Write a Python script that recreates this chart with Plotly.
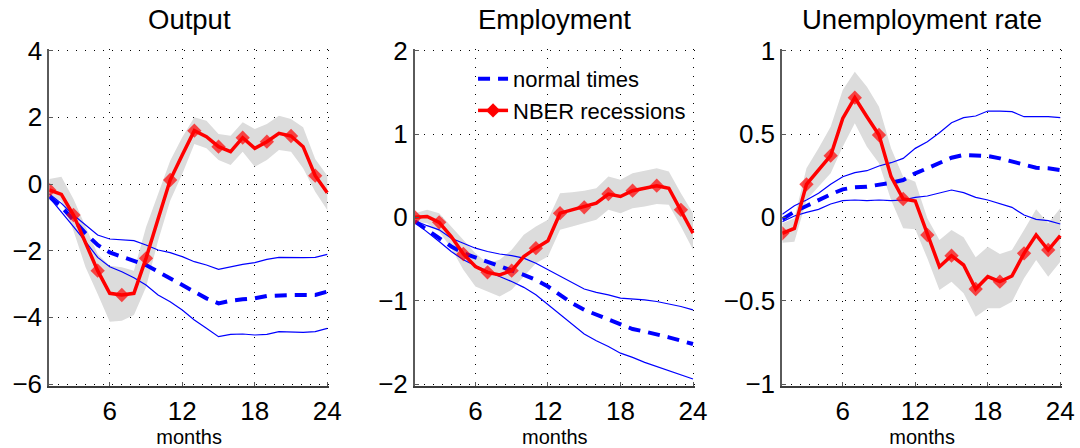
import plotly.graph_objects as go

months = list(range(1, 25))

# ---------------- Output ----------------
out_rec = [-0.18, -0.31, -0.93, -1.75, -2.60, -3.28, -3.33, -3.28, -2.23, -1.05, 0.12, 0.87,
           1.60, 1.42, 1.12, 0.97, 1.39, 1.07, 1.27, 1.52, 1.44, 1.12, 0.25, -0.26]
out_rec_hi = [0.15, 0.22, -0.45, -1.30, -2.10, -2.45, -2.50, -2.60, -1.30, -0.30, 0.70, 1.40,
              2.00, 1.90, 1.50, 1.45, 1.85, 1.65, 1.80, 2.05, 1.95, 1.70, 0.75, 0.25]
out_rec_lo = [-0.40, -0.50, -1.40, -2.50, -3.30, -4.13, -4.10, -3.93, -3.10, -1.70, -0.50, 0.30,
              1.20, 1.07, 0.72, 0.57, 0.97, 0.52, 0.72, 1.02, 0.97, 0.47, -0.23, -0.78]
out_norm = [-0.38, -0.68, -1.08, -1.48, -1.83, -2.05, -2.18, -2.30, -2.43, -2.63, -2.83, -3.06,
            -3.26, -3.43, -3.58, -3.50, -3.46, -3.43, -3.36, -3.33, -3.33, -3.33, -3.33, -3.23]
out_norm_hi = [-0.30, -0.58, -0.93, -1.23, -1.53, -1.65, -1.68, -1.70, -1.83, -1.98, -2.06, -2.18,
               -2.33, -2.43, -2.56, -2.48, -2.41, -2.36, -2.26, -2.20, -2.21, -2.21, -2.20, -2.11]
out_norm_lo = [-0.40, -0.83, -1.28, -1.73, -2.20, -2.48, -2.63, -2.81, -3.03, -3.33, -3.53, -3.78,
               -4.08, -4.33, -4.58, -4.51, -4.50, -4.53, -4.51, -4.43, -4.45, -4.45, -4.43, -4.33]

# ---------------- Employment ----------------
emp_rec = [0.00, 0.01, -0.06, -0.23, -0.44, -0.59, -0.66, -0.69, -0.64, -0.47, -0.37, -0.28,
           0.05, 0.09, 0.12, 0.17, 0.28, 0.25, 0.32, 0.35, 0.38, 0.35, 0.09, -0.19]
emp_rec_hi = [0.05, 0.09, 0.05, -0.11, -0.27, -0.43, -0.55, -0.51, -0.39, -0.21, -0.11, -0.03,
              0.29, 0.30, 0.32, 0.35, 0.49, 0.45, 0.53, 0.56, 0.59, 0.55, 0.29, 0.05]
emp_rec_lo = [-0.05, -0.07, -0.17, -0.37, -0.63, -0.83, -0.89, -0.95, -0.87, -0.71, -0.55, -0.47,
              -0.15, -0.11, -0.07, -0.03, 0.09, 0.05, 0.11, 0.13, 0.16, 0.15, -0.11, -0.39]
emp_norm = [-0.05, -0.15, -0.25, -0.35, -0.43, -0.48, -0.53, -0.59, -0.64, -0.69, -0.75, -0.83,
            -0.93, -1.03, -1.11, -1.17, -1.23, -1.29, -1.34, -1.37, -1.40, -1.44, -1.48, -1.52]
emp_norm_hi = [-0.04, -0.10, -0.15, -0.25, -0.31, -0.37, -0.41, -0.44, -0.46, -0.49, -0.55, -0.63,
               -0.71, -0.79, -0.86, -0.90, -0.93, -0.97, -0.98, -0.99, -1.01, -1.04, -1.07, -1.11]
emp_norm_lo = [-0.06, -0.17, -0.29, -0.41, -0.51, -0.58, -0.65, -0.71, -0.77, -0.84, -0.93, -1.05,
               -1.17, -1.28, -1.40, -1.48, -1.55, -1.63, -1.68, -1.74, -1.79, -1.84, -1.89, -1.94]

# ---------------- Unemployment rate ----------------
unr_rec = [-0.096, -0.066, 0.198, 0.284, 0.370, 0.594, 0.718, 0.604, 0.494, 0.244, 0.110, 0.098,
           -0.106, -0.296, -0.230, -0.286, -0.430, -0.356, -0.386, -0.352, -0.216, -0.106, -0.196, -0.110]
unr_rec_hi = [-0.036, -0.006, 0.294, 0.414, 0.544, 0.764, 0.874, 0.784, 0.664, 0.414, 0.244, 0.214,
              -0.006, -0.136, -0.076, -0.120, -0.240, -0.176, -0.220, -0.196, -0.076, 0.048, -0.036, 0.054]
unr_rec_lo = [-0.152, -0.146, 0.104, 0.184, 0.264, 0.424, 0.564, 0.424, 0.324, 0.104, -0.066, -0.072,
              -0.246, -0.436, -0.386, -0.456, -0.596, -0.546, -0.546, -0.506, -0.366, -0.256, -0.356, -0.266]
unr_norm = [-0.012, 0.034, 0.068, 0.104, 0.138, 0.168, 0.180, 0.184, 0.194, 0.208, 0.224, 0.264,
            0.294, 0.328, 0.358, 0.374, 0.368, 0.368, 0.354, 0.334, 0.314, 0.298, 0.294, 0.284]
unr_norm_hi = [0.018, 0.070, 0.104, 0.144, 0.198, 0.244, 0.268, 0.280, 0.308, 0.328, 0.354, 0.414,
               0.454, 0.508, 0.568, 0.598, 0.608, 0.638, 0.638, 0.634, 0.604, 0.604, 0.604, 0.598]
unr_norm_lo = [-0.026, 0.008, 0.030, 0.048, 0.080, 0.100, 0.104, 0.100, 0.104, 0.100, 0.104, 0.120,
               0.128, 0.144, 0.164, 0.148, 0.120, 0.104, 0.084, 0.060, 0.014, -0.012, -0.020, -0.040]

titles = ["Output", "Employment", "Unemployment rate"]
y_ranges = [(-6, 4), (-2, 2), (-1, 1)]
y_dticks = [2, 1, 0.5]
x_tickvals = [6, 12, 18, 24]
x_label = "months"
legend_names = ["normal times", "NBER recessions"]

panels = [
    (out_rec, out_rec_hi, out_rec_lo, out_norm, out_norm_hi, out_norm_lo),
    (emp_rec, emp_rec_hi, emp_rec_lo, emp_norm, emp_norm_hi, emp_norm_lo),
    (unr_rec, unr_rec_hi, unr_rec_lo, unr_norm, unr_norm_hi, unr_norm_lo),
]

# ---------------- layout geometry (pixels) ----------------
W, H = 1080, 448
lefts = [49.3, 415.0, 782.3]
plot_w = 278.0
top_px, bot_px = 50.7, 384.0
pad = 1.6  # so the boundary grid lines stay visible

FONT = "Liberation Sans, Arial, Helvetica, sans-serif"
RED = "#ff0000"
BLUE = "#0000ff"
BAND = "#dcdcdc"
AXC = "#5a5a5a"

red_sizes = [11 if m % 2 == 1 else 0 for m in months]

fig = go.Figure()

for i, (rec, rec_hi, rec_lo, nrm, nrm_hi, nrm_lo) in enumerate(panels):
    xa = "x" if i == 0 else f"x{i+1}"
    ya = "y" if i == 0 else f"y{i+1}"
    fig.add_trace(go.Scatter(x=months, y=rec_lo, mode="lines", line=dict(width=0, color=BAND),
                             showlegend=False, hoverinfo="skip", xaxis=xa, yaxis=ya))
    fig.add_trace(go.Scatter(x=months, y=rec_hi, mode="lines", line=dict(width=0, color=BAND),
                             fill="tonexty", fillcolor=BAND, showlegend=False, hoverinfo="skip",
                             xaxis=xa, yaxis=ya))
    for band in (nrm_hi, nrm_lo):
        fig.add_trace(go.Scatter(x=months, y=band, mode="lines", line=dict(width=1.2, color=BLUE),
                                 showlegend=False, xaxis=xa, yaxis=ya))
    fig.add_trace(go.Scatter(x=months, y=nrm, mode="lines", name=legend_names[0],
                             line=dict(width=4, color=BLUE, dash="12px,8px"),
                             showlegend=(i == 0), xaxis=xa, yaxis=ya))
    fig.add_trace(go.Scatter(x=months, y=rec, mode="lines+markers", name=legend_names[1],
                             line=dict(width=3.5, color=RED),
                             marker=dict(symbol="diamond", size=red_sizes, color=RED,
                                         line=dict(width=0)),
                             showlegend=False, xaxis=xa, yaxis=ya))
    if i == 0:
        # legend-only entry for the recession line (line + diamond marker)
        fig.add_trace(go.Scatter(x=[None], y=[None], mode="lines+markers", name=legend_names[1],
                                 line=dict(width=3.5, color=RED),
                                 marker=dict(symbol="diamond", size=11, color=RED, line=dict(width=0)),
                                 showlegend=True, xaxis=xa, yaxis=ya))

    # axes
    L = lefts[i]
    x_hi = 24 + pad * 23.0 / plot_w
    y0, y1 = y_ranges[i]
    ppu = (bot_px - top_px) / (y1 - y0)
    xkey = "xaxis" if i == 0 else f"xaxis{i+1}"
    ykey = "yaxis" if i == 0 else f"yaxis{i+1}"
    fig.layout[xkey] = dict(
        domain=[L / W, (L + plot_w + pad) / W], anchor=ya, range=[1, x_hi],
        tickmode="array", tickvals=x_tickvals, ticks="inside", ticklen=4, tickcolor=AXC,
        showline=True, linecolor="#3c3c3c", linewidth=1.5, zeroline=False,
        showgrid=True, gridcolor="#000000", gridwidth=1, griddash="1px,8px",
        tickfont=dict(family=FONT, size=26, color="#000"), ticklabelstandoff=1,
        title=dict(text=x_label, font=dict(family=FONT, size=20, color="#000"), standoff=8),
        automargin=False, fixedrange=True,
    )
    fig.layout[ykey] = dict(
        domain=[1 - (bot_px + pad) / H, 1 - (top_px - pad) / H], anchor=xa,
        range=[y0 - pad / ppu, y1 + pad / ppu],
        dtick=y_dticks[i], tick0=0, ticks="inside", ticklen=4, tickcolor=AXC,
        showline=True, linecolor=AXC, linewidth=2, zeroline=False,
        showgrid=True, gridcolor="#000000", gridwidth=1, griddash="1px,8px",
        tickfont=dict(family=FONT, size=26, color="#000"),
        automargin=False, fixedrange=True,
    )
    fig.add_annotation(text=titles[i], xref=f"{xa} domain", yref="paper", x=0.5, y=1 - 20 / H,
                       xanchor="center", yanchor="middle", showarrow=False,
                       font=dict(family=FONT, size=27.5, color="#000"))

fig.update_layout(
    width=W, height=H, margin=dict(l=0, r=0, t=0, b=0, autoexpand=False),
    paper_bgcolor="white", plot_bgcolor="white",
    font=dict(family=FONT, color="#000"),
    legend=dict(x=0.438, y=1 - 58 / H, xanchor="left", yanchor="top", traceorder="normal",
                bgcolor="rgba(0,0,0,0)", font=dict(family=FONT, size=22, color="#000"),
                itemsizing="trace", tracegroupgap=0),
)

fig.write_html("out.html")
